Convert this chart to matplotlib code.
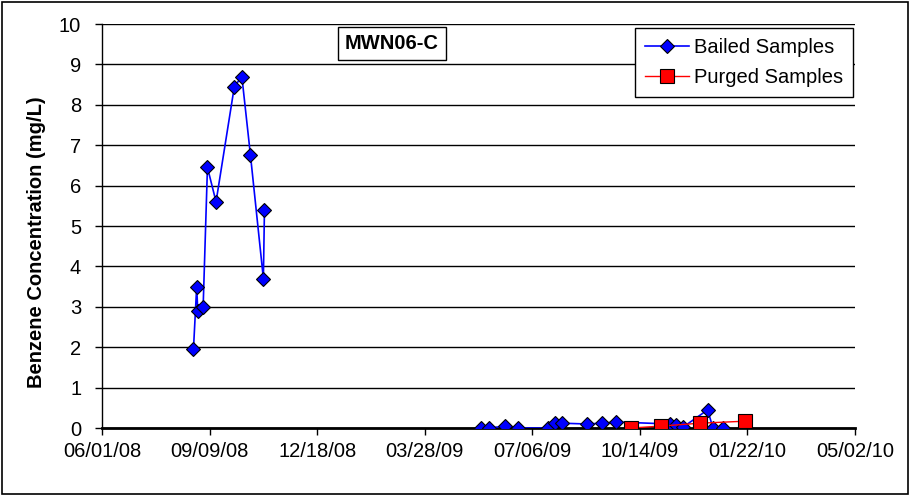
import numpy as np
import pandas as pd
import matplotlib
matplotlib.use("Agg")
import matplotlib.pyplot as plt
import matplotlib.dates as mdates
from matplotlib.patches import Rectangle

plt.rcParams['font.family'] = ['Liberation Sans', 'DejaVu Sans']

# bailed samples, 2008 run
bailed_dates_a = pd.to_datetime([
    '2008-08-25', '2008-08-28', '2008-08-29', '2008-09-03', '2008-09-07',
    '2008-09-15', '2008-10-02', '2008-10-09', '2008-10-17', '2008-10-29',
    '2008-10-30'])
bailed_vals_a = [1.95, 3.5, 2.9, 3.0, 6.45, 5.6, 8.45, 8.7, 6.75, 3.7, 5.4]

# bailed samples, 2009 run
bailed_dates_b = pd.to_datetime([
    '2009-05-19', '2009-05-27', '2009-06-11', '2009-06-23', '2009-07-21',
    '2009-07-27', '2009-08-03', '2009-08-26', '2009-09-09', '2009-09-22',
    '2009-11-11', '2009-11-17', '2009-11-23', '2009-12-16', '2009-12-21',
    '2009-12-30'])
bailed_vals_b = [0.0, 0.0, 0.05, 0.0, 0.0, 0.12, 0.12, 0.1, 0.12, 0.15,
                 0.1, 0.08, 0.02, 0.45, 0.0, 0.0]

# purged samples
purged_dates = pd.to_datetime(['2009-10-06', '2009-11-03', '2009-12-09', '2010-01-20'])
purged_vals = [0.0, 0.05, 0.12, 0.17]

tick_dates = pd.date_range('2008-06-01', periods=8, freq='100D')

fig = plt.figure(figsize=(9.11, 4.96), dpi=100)
ax = fig.add_axes([0.112, 0.137, 0.8265, 0.8146])

bstyle = dict(color='blue', lw=1.2, marker='D', ms=7.5, mfc='blue', mec='black',
              mew=0.8, zorder=3)
ax.plot(bailed_dates_a, bailed_vals_a, label='Bailed Samples', **bstyle)
ax.plot(bailed_dates_b, bailed_vals_b, **bstyle)
ax.plot(purged_dates, purged_vals, color='red', lw=1.0, marker='s', ms=10,
        mfc='red', mec='black', mew=0.8, label='Purged Samples', zorder=4)

ax.set_xlim(tick_dates[0], tick_dates[-1])
ax.set_ylim(0, 10)
ax.set_yticks(range(0, 11))
ax.set_xticks(tick_dates)
ax.xaxis.set_major_formatter(mdates.DateFormatter('%m/%d/%y'))

ax.yaxis.grid(True, color='black', lw=1)
ax.set_axisbelow(True)
for s in ['top', 'right']:
    ax.spines[s].set_visible(False)
ax.spines['bottom'].set_linewidth(2)
ax.spines['left'].set_linewidth(1)
ax.tick_params(axis='both', direction='out', length=5, width=1, labelsize=14.5)
ax.tick_params(axis='x', pad=5)
ax.tick_params(axis='y', pad=10)

ax.set_ylabel('Benzene Concentration (mg/L)', fontsize=14.5, fontweight='bold')
ax.yaxis.set_label_coords(-0.075, 0.46)

ax.text(0.385, 0.952, 'MWN06-C', transform=ax.transAxes, ha='center', va='center',
        fontsize=14.5, fontweight='bold',
        bbox=dict(boxstyle='square,pad=0.35', fc='white', ec='black', lw=1))

leg = ax.legend(loc='upper right', bbox_to_anchor=(0.997, 0.99), borderaxespad=0,
                fontsize=14.5, frameon=True, fancybox=False, edgecolor='black',
                framealpha=1, borderpad=0.5, labelspacing=0.55, handlelength=2.2,
                handletextpad=0.2)
leg.get_frame().set_linewidth(1)

fig.patches.append(Rectangle((0.002, 0.004), 0.995, 0.992, transform=fig.transFigure,
                             fill=False, ec='black', lw=1.2))

fig.savefig('out.png', dpi=100)
